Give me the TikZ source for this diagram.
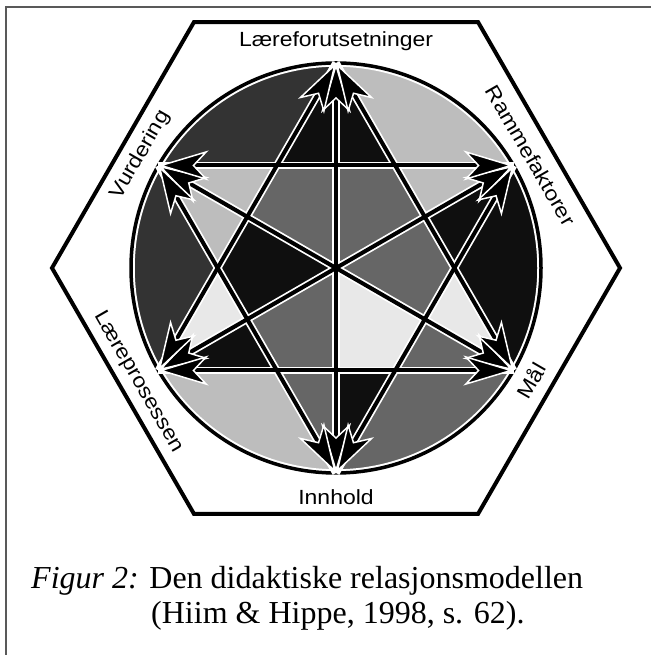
\documentclass[tikz,border=0pt]{standalone}
\usepackage{fontspec}
\setmainfont{Liberation Serif}
\newfontfamily\labelfont[FakeStretch=1.12]{Liberation Sans}
\usetikzlibrary{arrows.meta, calc}

\colorlet{toneblack}{black!94}
\colorlet{tonedark}{black!80}
\colorlet{tonemid}{black!60}
\colorlet{tonelight}{black!26}
\colorlet{tonepale}{black!9}

\begin{document}
\begin{tikzpicture}[
    x=1pt, y=1pt,
    frame/.style={draw=black!65, line width=2pt},
    hexline/.style={line width=4pt, line join=miter},
    rim/.style={line width=3.5pt},
    halo/.style={white, line width=7.5pt},
    link/.style={line width=4pt, <->, >={Stealth[length=50pt, width=30pt, inset=14pt, color=white, fill=black, line width=1.5pt]}},
    side/.style={font=\labelfont\fontsize{20.5}{24}\selectfont, inner sep=0pt},
    caption/.style={anchor=base west, inner sep=0pt, font=\fontsize{32}{36}\selectfont}
]
    \useasboundingbox (0,0) rectangle (650,655);
    \draw[frame] (6,0) -- (6,648) -- (651,648);

    \coordinate (O) at (336,387);
    \foreach \a in {90,30,330,270,210,150} {
        \coordinate (V\a) at ($(O)+(\a:205)$);
        \coordinate (M\a) at ($(O)+(\a:102.5)$);
    }
    \foreach \a in {0,60,120,180,240,300} {
        \coordinate (H\a) at ($(O)+(\a:118.35)$);
        \coordinate (X\a) at ($(O)+(\a:284)$);
    }

    \draw[hexline] (X0) -- (X60) -- (X120) -- (X180) -- (X240) -- (X300) -- cycle;

    % fields of the circle
    \fill[tonemid] (O) circle[radius=205];
    \fill[tonedark] (V90) arc[start angle=90, end angle=150, radius=205] -- (H120) -- cycle;
    \fill[tonelight] (V30) arc[start angle=30, end angle=90, radius=205] -- (H60) -- cycle;
    \fill[toneblack] (V330) arc[start angle=-30, end angle=30, radius=205] -- (H0) -- cycle;
    \fill[tonemid] (V270) arc[start angle=270, end angle=330, radius=205] -- (H300) -- cycle;
    \fill[tonelight] (V210) arc[start angle=210, end angle=270, radius=205] -- (H240) -- cycle;
    \fill[tonedark] (V150) arc[start angle=150, end angle=210, radius=205] -- (H180) -- cycle;
    \foreach \v/\h/\tone in {90/120/toneblack, 90/60/toneblack, 30/60/tonelight, 30/0/toneblack,
                             330/0/tonepale, 330/300/tonemid, 270/300/toneblack, 270/240/tonemid,
                             210/240/toneblack, 210/180/tonepale, 150/180/tonelight, 150/120/tonelight}
        \fill[\tone] (V\v) -- (M\v) -- (H\h) -- cycle;
    \foreach \p/\h/\q/\tone in {90/60/30/tonemid, 30/0/330/tonemid, 330/300/270/tonepale,
                                270/240/210/tonemid, 210/180/150/toneblack, 150/120/90/tonemid}
        \fill[\tone] (O) -- (M\p) -- (H\h) -- (M\q) -- cycle;

    \draw[halo] (O) circle[radius=205];
    \draw[rim] (O) circle[radius=205];

    % relations
    \foreach \s/\t in {V90/V270, V30/V210, V150/V330, V90/V210, V210/V330, V330/V90, V270/V150, V150/V30, V30/V270}
        \draw[halo] (\s) -- (\t);
    \foreach \s/\t in {V90/V270, V30/V210, V150/V330, V90/V210, V210/V330, V330/V90, V270/V150, V150/V30, V30/V270}
        \draw[link] (\s) -- (\t);

    \node[side] (forut) at ($(O)+(90:227)$) {Læreforutsetninger};
    \node[side, rotate=-60] (ramme) at ($(O)+(30:225)$) {Rammefaktorer};
    \node[side, rotate=60] (maal) at ($(O)+(330:225)$) {Mål};
    \node[side] (innhold) at ($(O)+(270:229)$) {Innhold};
    \node[side, rotate=-60] (prosess) at ($(O)+(210:228)$) {Læreprosessen};
    \node[side, rotate=60] (vurd) at ($(O)+(150:226)$) {Vurdering};

    \node[caption] (cap1) at (31,66) {\textit{Figur 2:} Den didaktiske relasjonsmodellen};
    \node[caption] (cap2) at (151,31) {(Hiim \& Hippe, 1998, s. 62).};
\end{tikzpicture}
\end{document}
